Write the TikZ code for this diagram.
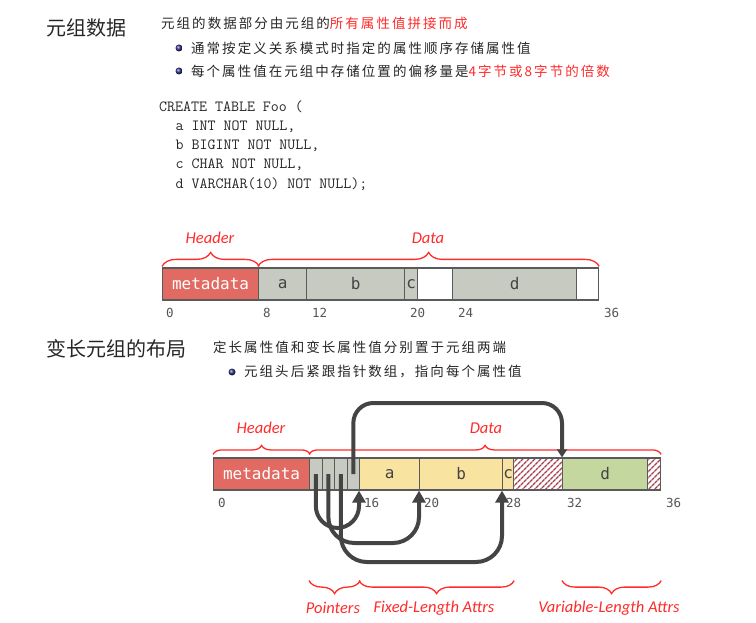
\documentclass[tikz,border=0pt]{standalone}
\usepackage{fontspec}
\newfontfamily\cjk{Noto Sans CJK SC}
\newfontfamily\cjkbody[LetterSpace=15]{Noto Sans CJK SC}
\newfontfamily\cellfont{DejaVu Sans Mono}
\newfontfamily\tagfont{Carlito}
\usetikzlibrary{arrows.meta,decorations.pathreplacing,patterns.meta}

\definecolor{metared}{HTML}{E16B62}
\definecolor{cellgrey}{HTML}{C6CAC0}
\definecolor{fixyellow}{HTML}{F9E3A0}
\definecolor{vargreen}{HTML}{C4D79E}
\definecolor{edgegrey}{HTML}{5A5A5A}
\definecolor{ptrgrey}{HTML}{444444}
\definecolor{hatchred}{HTML}{A8404F}
\definecolor{textred}{HTML}{FF2A2A}
\definecolor{bulletblue}{HTML}{30308A}
\definecolor{numgrey}{HTML}{555555}

\begin{document}
\begin{tikzpicture}[x=1pt,y=-1pt,
	cell/.style={draw=edgegrey,line width=1.2pt,minimum height=32pt,inner sep=0pt,anchor=west,text=ptrgrey,font=\cellfont\fontsize{16}{16}\selectfont},
	meta/.style={cell,fill=metared,text=white,minimum width=96pt},
	hatch/.style={cell,pattern={Lines[angle=45,distance=4pt,line width=1.6pt]},pattern color=hatchred},
	num/.style={anchor=west,inner sep=0pt,text=numgrey,font=\cellfont\fontsize{12.5}{12.5}\selectfont},
	tag/.style={inner sep=0pt,text=textred,font=\tagfont\itshape\fontsize{16.5}{16.5}\selectfont},
	brc/.style={draw=textred,line width=1.3pt,decorate,decoration={brace,amplitude=#1}},
	ptr/.style={draw=ptrgrey,line width=4pt,-{Triangle[width=13pt,length=12pt]}},
	title/.style={anchor=west,inner sep=0pt,text=black!85,font=\cjk\fontsize{20}{20}\selectfont},
	body/.style={anchor=west,inner sep=0pt,text=black!85,font=\cjkbody\fontsize{13.5}{13.5}\selectfont},
	code/.style={anchor=west,inner sep=0pt,text=black!85,font=\ttfamily\fontsize{15.5}{15.5}\selectfont},
	dot/.style={circle,inner sep=0pt,minimum size=7pt,ball color=bulletblue}]
	
	\useasboundingbox (0,0) rectangle (756,623);
	
		\node[title] (t1) at (46,27.5) {元组数据};
		
		\node[body] (l1) at (161,23.5) {元组的数据部分由元组的\textcolor{textred}{所有属性值拼接而成}};
		\node[dot] (bl1) at (179,48) {};
		\node[body] (l2) at (191,48) {通常按定义关系模式时指定的属性顺序存储属性值};
		\node[dot] (bl2) at (179,71) {};
		\node[body] (l3) at (191,71) {每个属性值在元组中存储位置的偏移量是\textcolor{textred}{4字节或8字节的倍数}};
		
		\node[code] (q1) at (159,107) {CREATE TABLE Foo (};
		\node[code] (q2) at (175.5,126.5) {a INT NOT NULL,};
		\node[code] (q3) at (175.5,146) {b BIGINT NOT NULL,};
		\node[code] (q4) at (175.5,165) {c CHAR NOT NULL,};
		\node[code] (q5) at (175.5,184) {d VARCHAR(10) NOT NULL);};
		
		
		\node[meta] (m1) at (162,284) {metadata};
		\node[cell,fill=cellgrey,minimum width=48pt] (a1) at (258,284) {a};
		\node[cell,fill=cellgrey,minimum width=98pt] (b1) at (306,284) {b};
		\node[cell,fill=cellgrey,minimum width=13pt] (c1) at (404,284) {c};
		\node[cell,minimum width=35pt] (e1) at (417,284) {};
		\node[cell,fill=cellgrey,minimum width=124pt] (d1) at (452,284) {d};
		\node[cell,minimum width=22pt] (f1) at (576,284) {};
		
		\node[num] (n10) at (166,313) {0};
		\node[num] (n11) at (263,313) {8};
		\node[num] (n12) at (312,313) {12};
		\node[num] (n13) at (410,313) {20};
		\node[num] (n14) at (458,313) {24};
		\node[num] (n15) at (604,313) {36};
		
		\draw[brc=14pt] ([yshift=1pt]m1.north west) -- ([yshift=1pt]m1.north east);
		\draw[brc=14pt] ([yshift=1pt]a1.north west) -- ([yshift=1pt]f1.north east);
		\node[tag] (hd1) at (210,238) {Header};
		\node[tag] (dt1) at (428,238) {Data};
		
		
		\node[title] (t2) at (46,349) {变长元组的布局};
		
		\node[body] (l4) at (213,347) {定长属性值和变长属性值分别置于元组两端};
		\node[dot] (bl3) at (232,372) {};
		\node[body] (l5) at (244,372) {元组头后紧跟指针数组，指向每个属性值};
		
		
		\node[meta] (m2) at (213,474) {metadata};
		\node[cell,fill=cellgrey,minimum width=12.5pt] (p1) at (309,474) {};
		\node[cell,fill=cellgrey,minimum width=12.5pt] (p2) at (321.5,474) {};
		\node[cell,fill=cellgrey,minimum width=12.5pt] (p3) at (334,474) {};
		\node[cell,fill=cellgrey,minimum width=12.5pt] (p4) at (346.5,474) {};
		\node[cell,fill=fixyellow,minimum width=60pt] (a2) at (359,474) {a};
		\node[cell,fill=fixyellow,minimum width=83pt] (b2) at (419,474) {b};
		\node[cell,fill=fixyellow,minimum width=11pt] (c2) at (502,474) {c};
		\node[hatch,minimum width=49pt] (h1) at (513,474) {};
		\node[cell,fill=vargreen,minimum width=85pt] (d2) at (562,474) {d};
		\node[hatch,minimum width=13pt] (h2) at (647,474) {};
		
		\node[num] (n20) at (218,503) {0};
		\node[num] (n21) at (364,503) {16};
		\node[num] (n22) at (424,503) {20};
		\node[num] (n23) at (506,503) {28};
		\node[num] (n24) at (567,503) {32};
		\node[num] (n25) at (666,503) {36};
		
		\draw[brc=9pt] ([yshift=3pt]m2.north west) -- ([yshift=3pt]m2.north east);
		\draw[brc=9pt] ([yshift=3pt]p1.north west) -- ([yshift=3pt]h2.north east);
		\node[tag] (hd2) at (261,428) {Header};
		\node[tag] (dt2) at (486,428) {Data};
		
		\draw[ptr,rounded corners=20pt,-{Triangle[width=10pt,length=8pt]}] (p4.center) -- (p4.center |- 0,403) -- (d2.north west |- 0,403) -- (d2.north west);
		\draw[ptr,rounded corners=22pt] (p1.center) -- (p1.center |- 0,528) -- (a2.south west |- 0,528) -- (a2.south west);
		\draw[ptr,rounded corners=26pt] (p2.center) -- (p2.center |- 0,543) -- (b2.south west |- 0,543) -- (b2.south west);
		\draw[ptr,rounded corners=26pt] (p3.center) -- (p3.center |- 0,562) -- (c2.south west |- 0,562) -- (c2.south west);
		
		\draw[brc=13pt,decoration={mirror}] ([yshift=-90pt]p1.south west) -- ([yshift=-90pt]p4.south east);
		\draw[brc=13pt,decoration={mirror}] ([yshift=-90pt]a2.south west) -- ([yshift=-90pt]c2.south east);
		\draw[brc=13pt,decoration={mirror}] ([yshift=-90pt]d2.south west) -- ([yshift=-90pt]h2.south east);
		\node[tag] (pt) at (333,608) {Pointers};
		\node[tag] (fx) at (434,608) {Fixed-Length Attrs};
		\node[tag] (vr) at (609,608) {Variable-Length Attrs};
		
	\end{tikzpicture}
\end{document}
